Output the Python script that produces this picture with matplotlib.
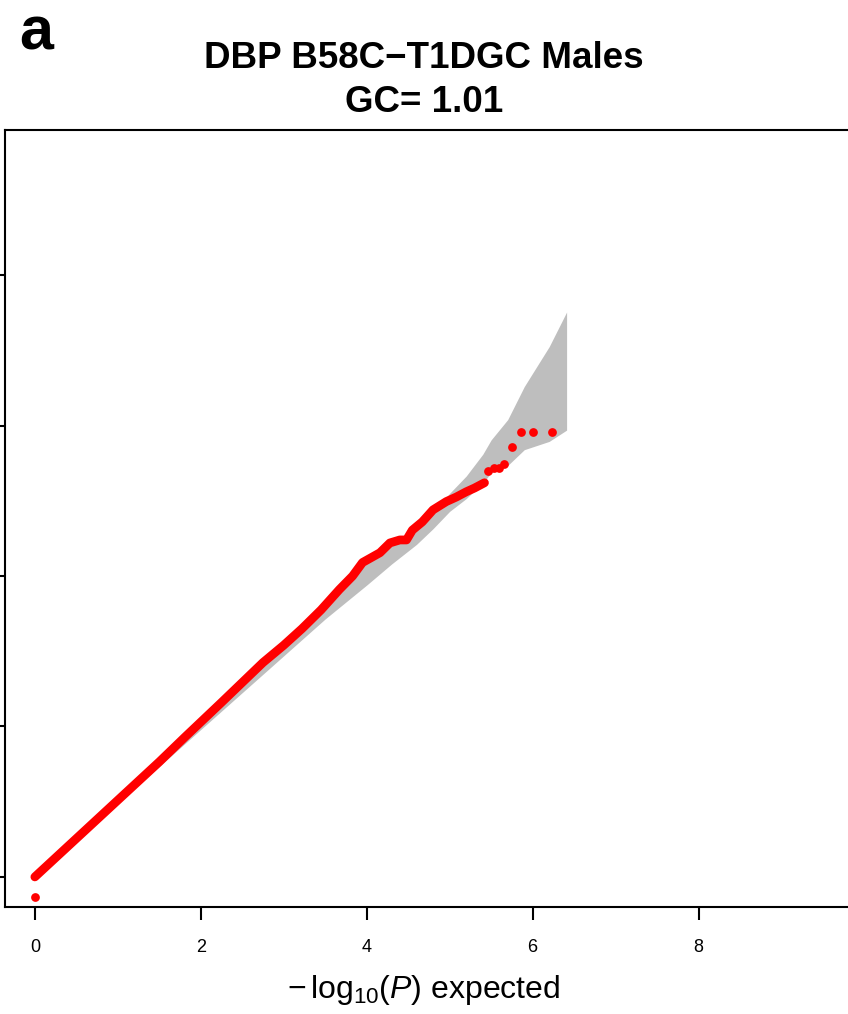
import matplotlib
matplotlib.use("Agg")
import matplotlib.pyplot as plt

plt.rcParams['font.family'] = ['Liberation Sans', 'DejaVu Sans']
plt.rcParams['mathtext.fontset'] = 'custom'
plt.rcParams['mathtext.rm'] = 'Liberation Sans'
plt.rcParams['mathtext.it'] = 'Liberation Sans:italic'

# gray confidence band (expected -log10 p, lower / upper)
band_x = [0, 1, 2, 3, 3.5, 4.0, 4.3, 4.6, 4.8, 5.0, 5.2, 5.4, 5.5, 5.7, 5.9, 6.2, 6.41]
band_lo = [0, 0.98, 1.96, 2.94, 3.43, 3.88, 4.16, 4.42, 4.63, 4.86, 5.03, 5.24, 5.37, 5.47, 5.68, 5.79, 5.94]
band_hi = [0.03, 1.05, 2.08, 3.12, 3.65, 4.18, 4.45, 4.63, 4.84, 5.10, 5.33, 5.62, 5.81, 6.08, 6.52, 7.05, 7.51]

# dense part of the observed curve
obs_x = [0, 0.5, 1.0, 1.5, 1.81, 2.25, 2.75, 3.0, 3.22, 3.45, 3.67, 3.83, 3.95, 4.16,
         4.28, 4.40, 4.48, 4.55, 4.67, 4.80, 4.96, 5.08, 5.20, 5.30, 5.42]
obs_y = [0.0, 0.51, 1.02, 1.53, 1.86, 2.32, 2.85, 3.08, 3.30, 3.55, 3.82, 4.0, 4.18, 4.31,
         4.44, 4.48, 4.48, 4.61, 4.72, 4.88, 4.99, 5.05, 5.12, 5.17, 5.24]

# isolated points
pt_x = [0, 5.46, 5.53, 5.59, 5.66, 5.75, 5.86, 6.0, 6.23]
pt_y = [-0.27, 5.39, 5.43, 5.43, 5.49, 5.72, 5.92, 5.92, 5.92]

fig = plt.figure(figsize=(8.48, 10.14), dpi=100)
ax = fig.add_axes([5/848, 1-907/1014, 876/848, 777/1014])

ax.fill_between(band_x, band_lo, band_hi, color='#bebebe', lw=0)
ax.plot(obs_x, obs_y, color='red', lw=6.3, solid_capstyle='round', solid_joinstyle='round')
ax.plot(pt_x, pt_y, 'o', color='red', ms=6.3, mec='none')

ax.set_xlim(-0.36, 10.2)
ax.set_ylim(-0.4, 9.93)
ax.set_xticks([0, 2, 4, 6, 8])
ax.set_yticks([0, 2, 4, 6, 8])
ax.set_yticklabels([])
ax.tick_params(axis='x', length=9, width=1.5, labelsize=13, pad=14)
ax.tick_params(axis='y', length=5, width=1.5)
for s in ax.spines.values():
    s.set_linewidth(1.5)

fig.text(0.5, 1-990/1014, r'$-\,\mathrm{log}_{10}(P)$ expected', ha='center', va='center', fontsize=23)
fig.text(0.5, 1-59/1014, 'DBP B58C\u2212T1DGC Males', ha='center', va='center',
         fontsize=26.5, fontweight='bold')
fig.text(0.5, 1-103/1014, 'GC= 1.01', ha='center', va='center', fontsize=26.5, fontweight='bold')
fig.text(19/848, 1-50/1014, 'a', ha='left', va='baseline', fontsize=44, fontweight='bold')

fig.savefig('out.png', dpi=100)
